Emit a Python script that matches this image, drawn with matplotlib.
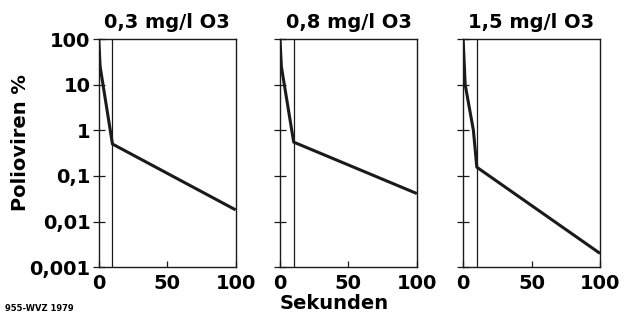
import matplotlib.pyplot as plt

plt.rcParams['font.family'] = ['DejaVu Sans']
plt.rcParams['font.weight'] = 'bold'

titles = ['0,3 mg/l O3', '0,8 mg/l O3', '1,5 mg/l O3']
# time in seconds and surviving polio virus in percent
t1 = [0, 1, 10, 100]
v1 = [100, 25, 0.5, 0.018]
t2 = [0, 1, 10, 100]
v2 = [100, 25, 0.55, 0.041]
t3 = [0, 1.5, 7.5, 10, 100]
v3 = [100, 10, 1, 0.155, 0.002]

yticks = [0.001, 0.01, 0.1, 1, 10, 100]
ylabels = ['0,001', '0,01', '0,1', '1', '10', '100']
xticks = [0, 50, 100]

fig = plt.figure(figsize=(6.25, 3.15), dpi=100)
lefts = [0.158, 0.448, 0.741]
data = [(t1, v1), (t2, v2), (t3, v3)]

for i, (t, v) in enumerate(data):
    ax = fig.add_axes([lefts[i], 0.152, 0.219, 0.724])
    ax.plot(t, v, color='#1a1a1a', lw=2.2, solid_capstyle='butt')
    ax.axvline(10, color='#1a1a1a', lw=0.9)
    ax.set_yscale('log')
    ax.set_xlim(0, 100)
    ax.set_ylim(0.001, 100)
    ax.set_xticks(xticks)
    ax.set_xticklabels([str(x) for x in xticks], fontsize=14, fontweight='bold')
    ax.set_yticks(yticks)
    ax.minorticks_off()
    if i == 0:
        ax.set_yticklabels(ylabels, fontsize=14, fontweight='bold')
    else:
        ax.set_yticklabels([])
    ax.tick_params(axis='y', direction='inout', length=9, width=0.9, pad=1.5, color='#1a1a1a')
    ax.tick_params(axis='x', direction='in', length=4, width=0.9, pad=5, color='#1a1a1a')
    for s in ax.spines.values():
        s.set_linewidth(1.0)
        s.set_color('#1a1a1a')
    ax.set_title(titles[i], fontsize=14, fontweight='bold', pad=8)

fig.text(0.033, 0.549, 'Polioviren %', rotation=90, ha='center', va='center',
         fontsize=14, fontweight='bold')
fig.text(0.534, 0.038, 'Sekunden', ha='center', va='center', fontsize=14, fontweight='bold')
fig.text(0.008, 0.022, '955-WVZ 1979', ha='left', va='center', fontsize=6, fontweight='bold')

fig.savefig('out.png', dpi=100)
